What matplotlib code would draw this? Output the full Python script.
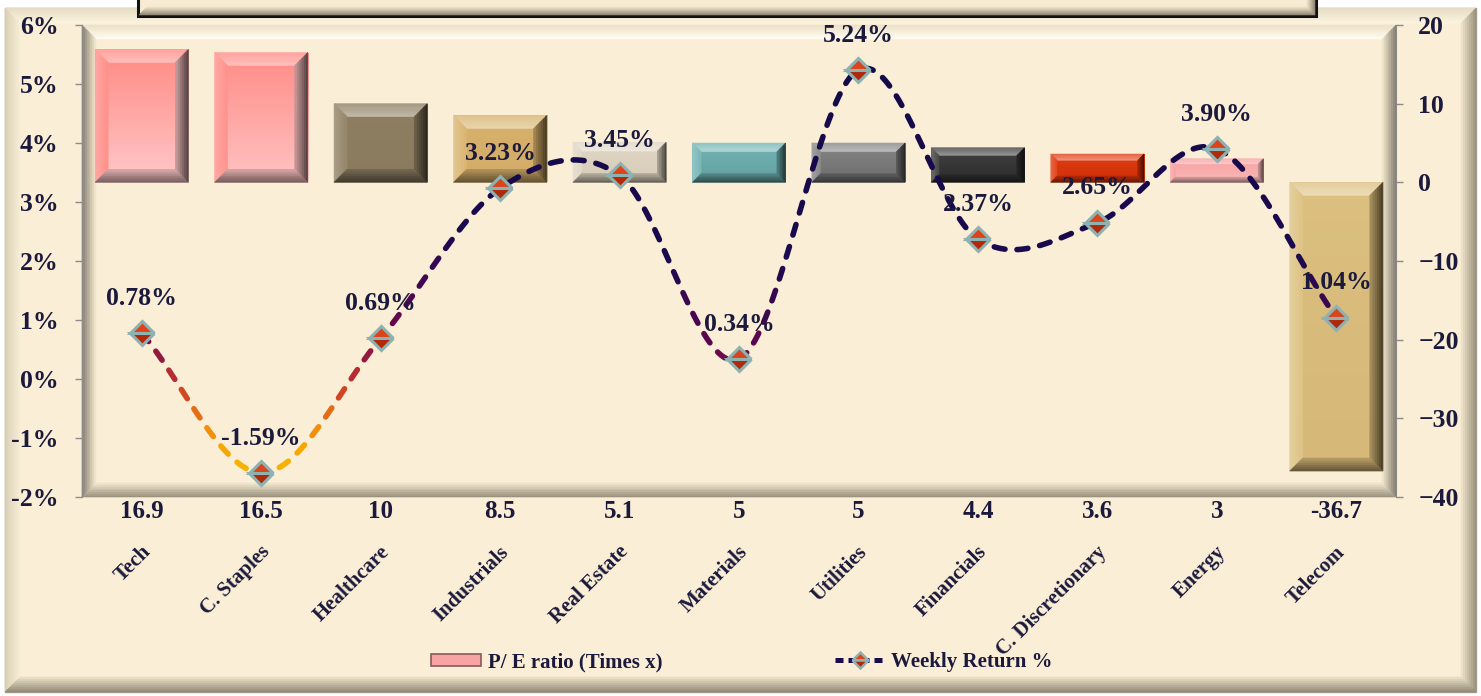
import numpy as np
import matplotlib
matplotlib.use('Agg')
import matplotlib.pyplot as plt
import matplotlib.transforms as mtransforms
from matplotlib.patches import Polygon, Rectangle, Patch
from matplotlib.lines import Line2D
from matplotlib.colors import to_rgb, LinearSegmentedColormap

sectors = ['Tech', 'C. Staples', 'Healthcare', 'Industrials', 'Real Estate', 'Materials',
           'Utilities', 'Financials', 'C. Discretionary', 'Energy', 'Telecom']
pe_ratio = [16.9, 16.5, 10, 8.5, 5.1, 5, 5, 4.4, 3.6, 3, -36.7]
weekly_return = [0.78, -1.59, 0.69, 3.23, 3.45, 0.34, 5.24, 2.37, 2.65, 3.90, 1.04]

bar_top = ['#ff8a84', '#ff8c86', '#8f7f62', '#d8b26c', '#e0d6c4', '#74b4b4',
           '#858585', '#404040', '#e03c12', '#f8a0a0', '#dcc080']
bar_bottom = ['#ffc8c8', '#ffc2c2', '#8a7a5e', '#d2ac68', '#d6ccb8', '#62a0a0',
              '#6e6e6e', '#2e2e2e', '#d03008', '#fab8b8', '#d6b878']

W, H = 1481, 696
CREAM = '#faeed6'
INK = '#1c1a3c'
IDENT = mtransforms.IdentityTransform()

plt.rcParams['font.family'] = ['Liberation Serif', 'DejaVu Serif']
plt.rcParams['font.weight'] = 'bold'


def mix(c, other, t):
    a = np.array(to_rgb(c))
    b = np.array(to_rgb(other))
    return tuple(a + (b - a) * t)


def bevel(ax, x0, y0, x1, y1, d, sides, n=8, zorder=1):
    # beveled edges drawn in pixel space, y0 bottom / y1 top
    for i in range(n):
        a = d * i / n
        b = d * (i + 1) / n
        t = (i + 0.5) / n
        polys = {
            'top': [(x0 + a, y1 - a), (x1 - a, y1 - a), (x1 - b, y1 - b), (x0 + b, y1 - b)],
            'bottom': [(x0 + a, y0 + a), (x1 - a, y0 + a), (x1 - b, y0 + b), (x0 + b, y0 + b)],
            'left': [(x0 + a, y0 + a), (x0 + a, y1 - a), (x0 + b, y1 - b), (x0 + b, y0 + b)],
            'right': [(x1 - a, y0 + a), (x1 - a, y1 - a), (x1 - b, y1 - b), (x1 - b, y0 + b)],
        }
        for side, (c_out, c_in) in sides.items():
            col = mix(c_out, c_in, t)
            ax.add_artist(Polygon(polys[side], closed=True, facecolor=col, edgecolor=col,
                                  lw=0.4, transform=IDENT, zorder=zorder))


fig = plt.figure(figsize=(W / 100, H / 100), dpi=100)
fig.patch.set_facecolor('white')

# background: outer frame, plot area and the (empty) title box
bg = fig.add_axes([0, 0, 1, 1], zorder=0)
bg.set_xlim(0, W)
bg.set_ylim(0, H)
bg.axis('off')

bg.add_artist(Rectangle((5, 4), 1471, 684, facecolor=CREAM, edgecolor='#a8a090', lw=1,
                        transform=IDENT, zorder=1))
bevel(bg, 5, 4, 1476, 688, 15,
      {'top': ('#e6dcc2', '#fbf3df'), 'left': ('#d8ceb4', '#f8eed6'),
       'right': ('#948c78', '#f2e6cc'), 'bottom': ('#8a8472', '#eee2c8')}, zorder=1.5)

bg.add_artist(Rectangle((82, H - 497), 1314, 472, facecolor=CREAM, edgecolor='none',
                        transform=IDENT, zorder=1.6))
bevel(bg, 82, H - 497, 1396, H - 25, 14,
      {'top': ('#ece0c4', '#fffcf2'), 'left': ('#7e786a', '#f6ead0'),
       'right': ('#7e786a', '#f4e8ce'), 'bottom': ('#948c7a', '#f4e8ce')}, zorder=1.7)

bg.add_artist(Rectangle((138, H - 16), 1178, 30, facecolor='#f7ecd3', edgecolor='#111111',
                        lw=2.2, transform=IDENT, zorder=2))
bevel(bg, 139, H - 15, 1315, H + 20, 8,
      {'bottom': ('#8a8270', '#efe3c9'), 'right': ('#8a8270', '#efe3c9')}, zorder=2.1)

# bars on the P/E scale (right), line on the return scale (left)
ax = fig.add_axes([82 / W, 1 - 497 / H, 1314 / W, 472 / H], zorder=2)
ax.patch.set_visible(False)
ax2 = ax.twinx()
ax2.set_zorder(3)
ax2.patch.set_visible(False)

x = np.arange(len(sectors))
bars = ax.bar(x, pe_ratio, width=0.78, color=bar_bottom, edgecolor='none', zorder=2)
grad = np.linspace(0, 1, 64)[:, None]
for i, rect in enumerate(bars):
    x0, w = rect.get_x(), rect.get_width()
    y_lo, y_hi = sorted([rect.get_y(), rect.get_y() + rect.get_height()])
    cm = LinearSegmentedColormap.from_list('bar%d' % i, [bar_top[i], bar_bottom[i]])
    im = ax.imshow(grad, extent=[x0, x0 + w, y_lo, y_hi], aspect='auto', cmap=cm,
                   origin='upper', zorder=2.1, interpolation='bilinear')
    im.set_clip_path(rect)

ax.set_xlim(-0.5, len(sectors) - 0.5)
ax.set_ylim(-40, 20)
ax.set_yticks([-40, -30, -20, -10, 0, 10, 20])
ax2.set_ylim(-2, 6)
ax2.set_yticks(range(-2, 7))
ax2.set_yticklabels(['%d%%' % v for v in range(-2, 7)])

for i, rect in enumerate(bars):
    bb = rect.get_window_extent()
    d = min(13, 0.22 * bb.height)
    c = bar_top[i]
    cb = bar_bottom[i]
    bevel(ax, bb.x0, bb.y0, bb.x1, bb.y1, d,
          {'top': (mix(c, 'white', 0.2), mix(c, 'white', 0.45)),
           'left': (mix(c, 'white', 0.25), mix(c, 'white', 0.05)),
           'right': (mix(cb, 'black', 0.7), mix(cb, 'black', 0.2)),
           'bottom': (mix(cb, 'black', 0.55), mix(cb, 'black', 0.15))}, n=6, zorder=2.2)

# axes styling
ax.yaxis.tick_right()
ax2.yaxis.tick_left()
for a in (ax, ax2):
    for s in a.spines.values():
        s.set_visible(False)
    a.set_xticks([])
ax.spines['right'].set_visible(True)
ax.spines['left'].set_visible(True)
ax.spines['right'].set_color('#8c8c8c')
ax.spines['left'].set_color('#8c8c8c')
ax.tick_params(axis='y', length=5, width=1, color='#8c8c8c', pad=11,
               labelsize=18.5, labelcolor=INK)
ax2.tick_params(axis='y', length=5, width=1, color='#8c8c8c', pad=12,
                labelsize=18.5, labelcolor=INK)

# category names and P/E values below the plot
fig_x = mtransforms.blended_transform_factory(ax.transData, fig.transFigure)
for i, name in enumerate(sectors):
    ax.text(i, 1 - 512 / H, '%g' % pe_ratio[i], transform=fig_x, ha='center', va='center',
            fontsize=18, color=INK, clip_on=False)
    ax.text(i + 0.05, 1 - 549 / H, name, transform=fig_x, rotation=45, rotation_mode='anchor',
            ha='right', va='center', fontsize=15, color=INK, clip_on=False)

# smoothed dashed return line, coloured by level
pts = ax2.transData.transform(np.column_stack([x, weekly_return]))
ext = np.vstack([2 * pts[0] - pts[1], pts, 2 * pts[-1] - pts[-2]])
curve = []
t = np.linspace(0, 1, 120)[:, None]
for k in range(len(pts) - 1):
    p0, p1 = ext[k + 1], ext[k + 2]
    m0 = (ext[k + 2] - ext[k]) / 2
    m1 = (ext[k + 3] - ext[k + 1]) / 2
    h00 = 2 * t**3 - 3 * t**2 + 1
    h10 = t**3 - 2 * t**2 + t
    h01 = -2 * t**3 + 3 * t**2
    h11 = t**3 - t**2
    seg = h00 * p0 + h10 * m0 + h01 * p1 + h11 * m1
    curve.append(seg if k == 0 else seg[1:])
curve = np.vstack(curve)
s = np.concatenate([[0], np.cumsum(np.hypot(*np.diff(curve, axis=0).T))])

line_cmap = LinearSegmentedColormap.from_list('ret', [
    (0.0, '#f8b400'), (0.06, '#f8b000'), (0.12, '#f08a10'), (0.19, '#d44a20'),
    (0.25, '#a82436'), (0.31, '#780a4a'), (0.41, '#4a0652'), (0.54, '#1a0a4e'),
    (1.0, '#120a48')])

dash_on, period = 11, 23
inv = ax2.transData.inverted()
start = 0.0
while start < s[-1]:
    end = min(start + dash_on, s[-1])
    sel = (s > start) & (s < end)
    xs = np.concatenate([[np.interp(start, s, curve[:, 0])], curve[sel, 0],
                         [np.interp(end, s, curve[:, 0])]])
    ys = np.concatenate([[np.interp(start, s, curve[:, 1])], curve[sel, 1],
                         [np.interp(end, s, curve[:, 1])]])
    dpts = inv.transform(np.column_stack([xs, ys]))
    xm, ym = dpts[:, 0].mean(), dpts[:, 1].mean()
    level = ym + 0.5 * np.clip(xm - 2.5, 0, 1)
    col = line_cmap(np.clip((level + 1.8) / 8.0, 0, 1))
    ax2.plot(dpts[:, 0], dpts[:, 1], color=col, lw=4.0, solid_capstyle='round', zorder=4)
    start += period

ax2.plot(x, weekly_return, ls='none', marker='D', ms=12, mfc='#dc441c',
         markerfacecoloralt='#b02a0a', fillstyle='top', mec='#8eb2b2', mew=2.2, zorder=5)

for i, v in enumerate(weekly_return):
    ax2.annotate('%.2f%%' % v, (i, v), xytext=(0, 25), textcoords='offset points',
                 ha='center', va='center', fontsize=18.5, color=INK, zorder=6)

handles = [
    Patch(facecolor='#f8a4a4', edgecolor='#8a5a5a', lw=1.2),
    Line2D([], [], color='#1a0a4e', lw=3.6, ls=(0, (1.6, 1.0)), marker='D', ms=8,
           mfc='#dc441c', markerfacecoloralt='#b02a0a', fillstyle='top', mec='#8eb2b2', mew=1.8),
]
fig.legend(handles, ['P/ E ratio (Times x)', 'Weekly Return %'], ncol=2, loc='center',
           bbox_to_anchor=(742 / W, 1 - 662 / H), frameon=False, fontsize=15,
           labelcolor=INK, handlelength=2.4, handletextpad=0.3, columnspacing=8.3,
           handleheight=0.5)

fig.savefig('out.png', dpi=100)
